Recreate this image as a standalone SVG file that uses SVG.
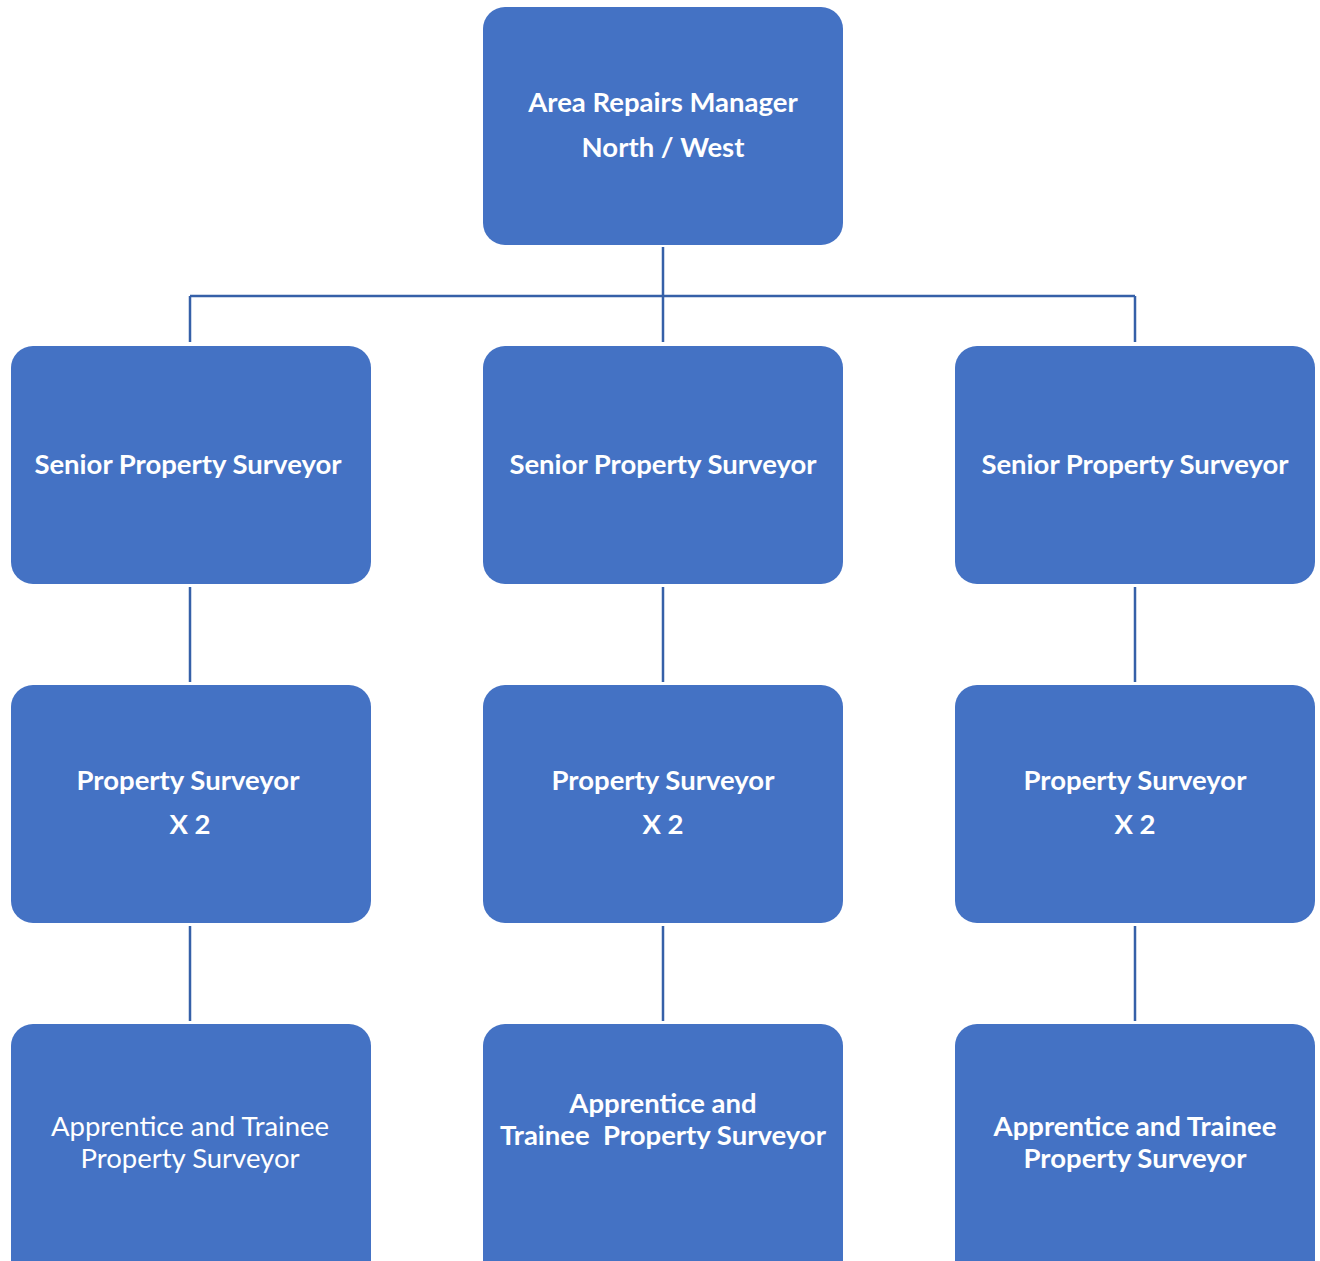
<svg xmlns="http://www.w3.org/2000/svg" width="1320" height="1261" viewBox="0 0 1320 1261">
<style>
.box{fill:#4472C4;}
.t{fill:#FFFFFF;font-family:Lato,"Open Sans","Liberation Sans",sans-serif;font-size:27.5px;text-anchor:middle;}
.b{font-weight:bold;}
.r{font-weight:normal;}
.c{stroke:#3560A8;stroke-width:2.5;fill:none;}
</style>
<rect width="1320" height="1261" fill="#FFFFFF"/>
<g id="connectors">
<path class="c" d="M663 247V342M190 296H1135M190 296V342M1135 296V342"/>
<path class="c" d="M190 587V682M663 587V682M1135 587V682"/>
<path class="c" d="M190 926V1021M663 926V1021M1135 926V1021"/>
</g>
<g id="n-manager">
<rect class="box" x="483" y="7" width="360" height="238" rx="22"/>
<text class="t b" x="663" y="112">Area Repairs Manager</text>
<text class="t b" x="663" y="157">North / West</text>
</g>
<g id="n-sps1">
<rect class="box" x="11" y="346" width="360" height="238" rx="22"/>
<text class="t b" x="188" y="474">Senior Property Surveyor</text>
</g>
<g id="n-sps2">
<rect class="box" x="483" y="346" width="360" height="238" rx="22"/>
<text class="t b" x="663" y="474">Senior Property Surveyor</text>
</g>
<g id="n-sps3">
<rect class="box" x="955" y="346" width="360" height="238" rx="22"/>
<text class="t b" x="1135" y="474">Senior Property Surveyor</text>
</g>
<g id="n-ps1">
<rect class="box" x="11" y="685" width="360" height="238" rx="22"/>
<text class="t b" x="188" y="790">Property Surveyor</text>
<text class="t b" x="190" y="834">X 2</text>
</g>
<g id="n-ps2">
<rect class="box" x="483" y="685" width="360" height="238" rx="22"/>
<text class="t b" x="663" y="790">Property Surveyor</text>
<text class="t b" x="663" y="834">X 2</text>
</g>
<g id="n-ps3">
<rect class="box" x="955" y="685" width="360" height="238" rx="22"/>
<text class="t b" x="1135" y="790">Property Surveyor</text>
<text class="t b" x="1135" y="834">X 2</text>
</g>
<g id="n-atps1">
<rect class="box" x="11" y="1024" width="360" height="262" rx="22"/>
<text class="t r" x="190" y="1136">Apprentice and Trainee</text>
<text class="t r" x="190" y="1168">Property Surveyor</text>
</g>
<g id="n-atps2">
<rect class="box" x="483" y="1024" width="360" height="262" rx="22"/>
<text class="t b" x="663" y="1113">Apprentice and</text>
<text class="t b" x="663" y="1145" xml:space="preserve">Trainee  Property Surveyor</text>
</g>
<g id="n-atps3">
<rect class="box" x="955" y="1024" width="360" height="262" rx="22"/>
<text class="t b" x="1135" y="1136">Apprentice and Trainee</text>
<text class="t b" x="1135" y="1168">Property Surveyor</text>
</g>
</svg>
